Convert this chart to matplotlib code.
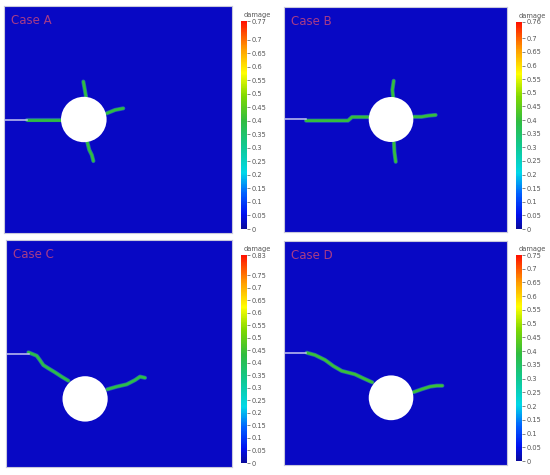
import numpy as np
import matplotlib
matplotlib.use("Agg")
import matplotlib.pyplot as plt
from matplotlib.colors import LinearSegmentedColormap, Normalize
from matplotlib.patches import Circle
from matplotlib.cm import ScalarMappable

# ---------------- data ----------------
case_names = ["Case A", "Case B", "Case C", "Case D"]
damage_max = [0.77, 0.76, 0.83, 0.75]
crack_damage = [0.40, 0.40, 0.42, 0.40]

hole_x = [0.35, 0.48, 0.35, 0.48]
hole_y = [0.50, 0.50, 0.30, 0.30]
hole_r = 0.10

precrack_x = [0.0, 0.10]
precrack_y = [0.50, 0.50]

# crack paths (domain coordinates, 0..1)
cracks_A = [
    ([0.10, 0.25], [0.50, 0.50]),
    ([0.348, 0.353, 0.360], [0.667, 0.639, 0.599]),
    ([0.450, 0.487, 0.523], [0.527, 0.542, 0.549]),
    ([0.365, 0.374, 0.385, 0.392], [0.402, 0.366, 0.344, 0.317]),
]
cracks_B = [
    ([0.099, 0.287, 0.305, 0.381], [0.495, 0.495, 0.511, 0.511]),
    ([0.490, 0.486, 0.492], [0.594, 0.631, 0.672]),
    ([0.581, 0.617, 0.647, 0.680], [0.512, 0.512, 0.517, 0.520]),
    ([0.493, 0.495, 0.501], [0.397, 0.357, 0.312]),
]
cracks_C = [
    ([0.099, 0.136, 0.150, 0.165, 0.187, 0.217, 0.246, 0.276],
     [0.505, 0.490, 0.471, 0.449, 0.435, 0.417, 0.398, 0.380]),
    ([0.448, 0.490, 0.534, 0.571, 0.593, 0.615],
     [0.342, 0.354, 0.364, 0.383, 0.398, 0.393]),
]
cracks_D = [
    ([0.102, 0.139, 0.184, 0.221, 0.259, 0.318, 0.356, 0.396],
     [0.501, 0.491, 0.469, 0.442, 0.420, 0.405, 0.387, 0.369]),
    ([0.580, 0.617, 0.655, 0.685, 0.710],
     [0.325, 0.338, 0.350, 0.354, 0.354]),
]
all_cracks = [cracks_A, cracks_B, cracks_C, cracks_D]

# ---------------- layout (pixels) ----------------
W, H = 550, 475
panel_px = [(4, 6, 228, 227), (284, 7, 223, 225), (6, 240, 226, 227), (284, 241, 223, 224)]
cbar_px = [(241, 21, 6, 208), (516, 22, 6, 207), (241, 255, 6, 208), (516, 255, 6, 206)]

def frac(r):
    x, y, w, h = r
    return [x / W, 1 - (y + h) / H, w / W, h / H]

cmap = LinearSegmentedColormap.from_list("dmg", [
    (0.00, "#0a0a9c"), (0.07, "#0010f0"), (0.17, "#0060ff"), (0.27, "#00d8e8"),
    (0.40, "#10c890"), (0.52, "#30bc40"), (0.64, "#80d800"), (0.75, "#ffff00"),
    (0.87, "#ff9a00"), (1.00, "#ff1000")])

bg = "#0808c4"

fig = plt.figure(figsize=(5.5, 4.75), dpi=100)

for i in range(4):
    ax = fig.add_axes(frac(panel_px[i]))
    ax.set_xlim(0, 1)
    ax.set_ylim(0, 1)
    ax.set_facecolor(bg)
    ax.set_xticks([])
    ax.set_yticks([])
    for s in ax.spines.values():
        s.set_color("#c8c8dc")
        s.set_linewidth(0.8)

    norm = Normalize(0, damage_max[i])
    col = cmap(norm(crack_damage[i]))
    for cx, cy in all_cracks[i]:
        ax.plot(cx, cy, color="#3aa8a0", lw=3.0, alpha=0.55, solid_capstyle="round",
                solid_joinstyle="round", zorder=2)
        ax.plot(cx, cy, color=col, lw=2.0, solid_capstyle="round",
                solid_joinstyle="round", zorder=3)
    ax.plot(precrack_x, precrack_y, color="#c4c4f0", lw=1.1, zorder=3)
    ax.add_patch(Circle((hole_x[i], hole_y[i]), hole_r, facecolor="white",
                        edgecolor="none", zorder=4))
    ax.text(0.03, 0.965, case_names[i], transform=ax.transAxes, ha="left", va="top",
            fontsize=8.5, color="#a83c88", family="DejaVu Sans")

    cax = fig.add_axes(frac(cbar_px[i]))
    sm = ScalarMappable(norm=norm, cmap=cmap)
    cb = fig.colorbar(sm, cax=cax)
    cb.outline.set_visible(False)
    steps = [round(0.05 * k, 2) for k in range(20)]
    ticks = [t for t in steps if t <= damage_max[i] - 0.035] + [damage_max[i]]
    cb.set_ticks(ticks)
    cb.set_ticklabels([("%g" % t) for t in ticks])
    cax.tick_params(length=2.5, width=0.5, colors="#555555", labelsize=4.8, pad=1)
    cax.text(0.5, 1.015, "damage", transform=cax.transAxes, ha="left", va="bottom",
             fontsize=4.8, color="#555555")

fig.savefig("out.png", dpi=100)
